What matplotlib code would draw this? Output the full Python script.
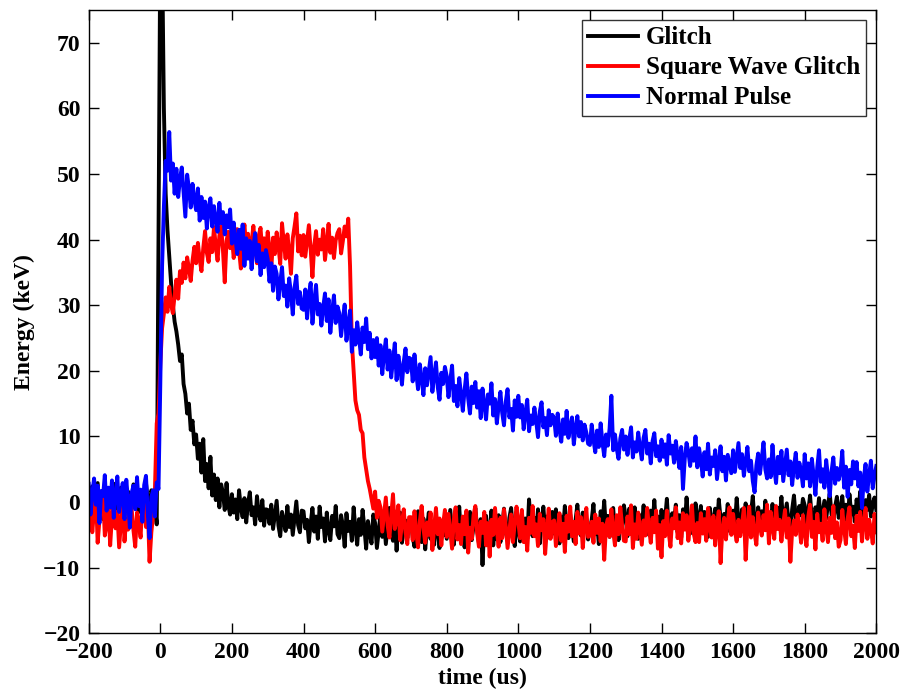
import numpy as np
import matplotlib
matplotlib.use("Agg")
import matplotlib.pyplot as plt

plt.rcParams["font.family"] = ["Liberation Serif", "DejaVu Serif"]
plt.rcParams["font.weight"] = "bold"
plt.rcParams["font.size"] = 17

# sample times (us), one sample every 5 us
time_us = np.arange(-200, 2001, 5)

# Glitch trace (keV), one row per 100 us
glitch = [
    1.5, -0.8, 2.4, -1.8, 0.6, 2.9, -0.5, 1.2, -2.6, 0.8, 2.1, -1.2, 1.9, -0.3, 2.8, -1.6, 0.4, -0.9, 2.2, -1.4,          # -200
    -2.1, 0.9, 1.6, -1.3, -0.4, 2.7, 2.2, -0.6, -1.5, 1.4, 0.6, -2.0, 2.9, 0.3, -1.7, 1.8, 0.9, -0.8, -3.4, 40.0,         # -100
    85.0, 84.0, 60.0, 47.0, 41.5, 37.5, 33.5, 30.0, 27.5, 26.0, 24.0, 21.5, 22.5, 18.0, 16.5, 13.5, 15.0, 11.0, 12.4, 8.8,  # 0
    10.3, 6.6, 8.9, 4.5, 9.6, 3.2, 5.8, 2.1, 6.9, 1.0, 4.2, 0.3, 3.6, -0.8, 2.7, 1.4, -1.2, 2.9, -0.5, -1.9,               # 100
    1.2, -1.6, 0.4, -2.6, 1.8, -0.9, -2.3, 0.6, -3.1, -0.2, 1.5, -2.0, -0.8, -3.4, 0.9, -1.7, -2.8, 0.3, -3.6, -1.1,       # 200
    -1.2, -3.3, -0.4, -4.1, -2.0, 0.2, -3.6, -5.2, -1.5, -2.9, -4.4, -0.6, -3.8, -1.9, -5.0, -2.4, 0.1, -3.5, -4.6, -1.3,  # 300
    -1.4, -4.0, -2.7, -6.1, -3.2, -0.9, -4.5, -2.2, -5.6, -0.7, -3.8, -2.5, -6.0, -1.6, -4.3, -5.8, -2.1, -3.7, -0.6, -4.9, # 400
    -5.5, -2.0, -3.6, -6.8, -1.7, -4.4, -3.0, -5.9, -0.8, -4.1, -6.5, -2.6, -5.0, -1.2, -3.9, -7.1, -2.9, -4.7, -6.3, -1.9, # 500
    -3.2, -7.0, -4.4, -1.9, -5.3, -2.7, -6.4, -3.6, -0.9, -4.8, -5.9, -2.3, -7.4, -3.5, -1.6, -6.2, -4.1, -2.8, -5.5, -3.0, # 600
    -2.4, -5.3, -6.8, -3.6, -1.4, -4.7, -6.1, -2.5, -7.2, -4.0, -1.6, -5.6, -3.3, -6.5, -2.0, -4.4, -7.0, -3.1, -5.1, -2.2, # 700
    -5.6, -3.4, -1.2, -4.9, -6.5, -2.8, -4.3, -0.7, -5.4, -3.1, -6.9, -2.2, -4.6, -1.5, -5.8, -3.7, -0.9, -4.1, -6.2, -2.6, # 800
    -9.6, -3.5, -2.1, -5.9, -4.8, -1.3, -6.6, -3.4, -5.7, -2.0, -6.1, -3.9, -1.0, -4.6, -5.8, -2.4, -0.9, -4.3, -6.7, -3.2, # 900
    -3.7, -6.0, -1.8, -4.2, -2.5, -5.6, 0.4, -3.3, -5.2, -2.4, -4.8, -1.1, -6.3, -3.0, -0.7, -4.5, -2.2, -5.4, -3.6, -1.5,  # 1000
    -4.8, -1.1, -3.9, -6.3, -2.2, -4.5, -0.6, -3.4, -5.5, -1.9, -4.0, -6.0, -2.7, -0.4, -3.8, -5.1, -1.6, -4.4, -2.9, -5.7, # 1100
    -4.1, -2.7, -0.3, -4.9, -3.2, -6.4, -1.4, -3.6, 0.2, -4.4, -2.1, -5.3, -3.0, -0.9, -4.6, -2.4, -5.8, -1.2, -3.5, -0.5,  # 1200
    -2.3, -5.2, -1.0, -3.7, -4.8, -0.8, -3.1, -5.6, -2.0, -3.9, -0.5, -4.4, -2.6, -5.0, -1.3, -3.4, 0.3, -4.1, -2.2, -5.3,  # 1300
    -1.2, -4.3, -2.6, 0.5, -3.8, -5.0, -1.7, -3.2, -0.4, -4.6, -2.0, -5.4, -1.1, -3.6, 0.7, -2.9, -4.8, -1.5, -3.3, -0.2,   # 1400
    -2.2, -3.9, -0.6, -4.7, -1.5, -3.4, -5.3, -0.9, -2.8, -4.1, -1.0, -3.7, 0.4, -2.5, -4.9, -1.8, -3.2, -0.3, -4.4, -2.1,  # 1500
    -1.3, -3.6, 0.6, -2.9, -4.4, -1.1, -3.3, -0.2, -2.5, -4.0, -1.7, 0.9, -3.1, -4.7, -0.8, -2.6, -1.4, -3.9, 0.2, -2.3,    # 1600
    -1.6, -3.4, -0.3, -2.8, -4.1, -0.9, -2.6, 0.8, -3.5, -1.8, -0.2, -3.0, -4.3, -1.1, 1.0, -2.4, -3.7, -0.6, -2.0, 0.5,    # 1700
    -0.5, -3.1, -1.4, 1.0, -2.7, -3.8, -0.8, -2.2, 0.6, -3.3, -1.6, 0.2, -2.5, -0.4, 1.3, -1.9, -3.0, -0.7, 0.8, -2.4,      # 1800
    -1.1, 0.9, -2.6, -0.4, -3.4, 1.2, -1.9, -0.7, -3.0, 0.4, -1.5, 1.6, -0.8, -2.7, 0.3, -1.2, 1.1, -2.2, -0.3, 0.7,       # 1900
    -1.2,                                                                                                                   # 2000
]

# Square wave glitch trace (keV)
square_wave = [
    -2.1, 0.8, -4.6, -1.3, 1.5, -6.2, -2.8, -0.4, 1.2, -5.1, -3.4, -0.7, -6.6, -2.2, 0.3, -4.0, -1.5, -6.9, -3.1, 0.6,     # -200
    -6.0, -2.5, -4.2, 0.9, -1.1, -4.3, -6.8, -1.6, -3.3, -5.4, 0.4, -0.2, -3.8, -1.0, -9.1, -4.6, -2.0, 2.0, 12.0, 13.5,   # -100
    21.0, 26.5, 28.7, 31.2, 29.0, 32.8, 30.1, 28.8, 31.5, 33.9, 31.0, 35.2, 33.4, 36.5, 34.1, 37.3, 35.6, 33.7, 36.8, 38.9, # 0
    36.4, 39.5, 37.0, 35.2, 38.7, 41.3, 38.0, 36.6, 40.2, 38.1, 41.9, 39.0, 36.8, 40.6, 42.0, 38.4, 33.5, 39.8, 41.2, 38.7, # 100
    40.5, 37.2, 39.8, 41.6, 38.4, 35.6, 40.1, 42.3, 38.8, 40.9, 37.5, 39.6, 42.1, 38.9, 36.4, 40.6, 41.8, 38.0, 40.2, 37.7, # 200
    41.2, 38.6, 35.4, 40.3, 37.8, 41.1, 39.0, 36.3, 42.5, 39.5, 37.1, 40.8, 38.3, 34.8, 40.2, 42.0, 44.0, 38.2, 40.6, 37.6, # 300
    40.7, 37.4, 39.8, 42.2, 38.5, 34.3, 39.1, 41.3, 37.7, 40.0, 38.5, 41.6, 36.9, 39.4, 42.4, 38.0, 40.3, 37.2, 39.9, 41.0, # 400
    41.6, 37.9, 39.8, 42.0, 40.5, 43.2, 36.0, 24.5, 20.0, 15.5, 14.0, 13.3, 11.0, 10.5, 6.8, 5.0, 3.2, 2.0, 0.5, -1.0,     # 500
    1.6, -2.4, 0.2, -0.8, -4.5, -1.9, 0.7, -3.6, -5.4, -2.0, 1.2, -4.1, -2.7, -0.5, -5.8, -3.2, -1.1, -4.6, -6.4, -2.3,     # 600
    -2.3, -5.8, -1.4, -4.6, -6.9, -2.9, -0.6, -4.0, -6.2, -3.1, -5.0, -1.6, -7.3, -3.8, -0.9, -4.9, -2.5, -6.6, -3.4, -1.2, # 700
    -5.3, -1.8, -4.4, -7.1, -2.6, -0.8, -5.7, -3.5, -6.4, -2.2, -4.9, -1.3, -7.7, -3.9, -5.6, -2.0, -0.6, -4.7, -6.8, -3.0, # 800
    -4.7, -1.5, -6.6, -3.2, -8.3, -2.7, -5.0, -0.9, -4.2, -6.8, -2.4, -5.5, -1.1, -3.7, -7.0, -4.4, -1.9, -6.1, -3.3, -0.7, # 900
    -3.0, -5.5, -1.2, -6.1, -3.8, -7.4, -2.4, -4.7, -0.6, -5.2, -3.4, -6.7, -1.8, -4.3, -2.6, -7.9, -4.0, -1.0, -5.6, -3.1, # 1000
    -2.8, -6.7, -4.0, -1.7, -5.9, -3.3, -7.6, -2.1, -4.5, -0.7, -5.2, -3.0, -6.4, -1.5, -4.8, -2.3, -7.0, -3.7, -0.9, -5.3, # 1100
    -5.1, -3.0, -6.2, -1.9, -4.7, -2.5, -6.0, -3.3, -8.8, -3.7, -2.6, -5.3, -1.1, -4.4, -6.6, -2.0, -4.9, -0.8, -3.6, -5.9, # 1200
    -6.0, -2.2, -4.9, -0.5, -7.0, -3.4, -5.6, -1.6, -4.1, -6.5, -2.8, -5.1, -0.9, -3.9, -6.2, -2.4, -4.6, -1.3, -7.1, -3.5, # 1300
    -8.4, -2.9, -5.2, -1.3, -4.6, -6.8, -2.5, -4.0, -0.8, -5.5, -3.1, -6.3, -1.7, -4.2, -2.0, -5.9, -3.6, -0.5, -4.8, -6.1, # 1400
    -3.2, -6.1, -1.7, -4.8, -2.6, -5.9, -0.9, -3.8, -5.4, -2.1, -6.6, -3.5, -1.4, -9.3, -4.2, -2.4, -5.7, -3.0, -0.8, -5.0, # 1500
    -1.8, -4.4, -6.0, -2.7, -5.2, -3.4, -0.9, -8.8, -3.9, -0.7, -5.4, -2.3, -4.8, -6.5, -1.6, -3.8, -5.1, -2.0, -4.3, -0.4, # 1600
    -6.3, -1.5, -3.8, -5.6, -0.6, -4.1, -2.7, -6.0, -3.3, -1.2, -5.4, -2.5, -9.1, -4.4, -2.8, -5.0, -1.9, -3.6, -6.2, -2.0, # 1700
    -4.5, -6.7, -2.2, -0.4, -5.3, -3.0, -7.2, -1.8, -4.6, -3.3, -5.9, -1.1, -3.8, -6.1, -2.4, -4.7, -0.6, -5.5, -3.1, -6.8, # 1800
    -5.8, -1.2, -4.0, -6.4, -2.5, -0.8, -5.2, -3.6, -7.0, -2.1, -4.4, -1.5, -6.0, -3.2, -0.9, -5.6, -2.7, -4.1, -6.3, -1.8, # 1900
    -4.6,                                                                                                                   # 2000
]

# Normal pulse trace (keV)
normal_pulse = [
    2.8, -1.9, 1.2, 3.6, -0.4, 2.5, -3.2, 1.7, 0.9, 4.1, -1.3, 2.2, -0.8, 3.3, -2.4, 1.0, 3.9, -1.5, 0.6, 2.9,             # -200
    -2.6, 3.4, 0.2, -3.9, 1.4, 2.5, -1.1, 3.8, -0.6, 1.9, -3.0, 2.6, 4.0, -1.8, -5.5, 0.8, 1.8, -2.2, 3.0, 2.0,            # -100
    18.0, 36.0, 45.0, 52.0, 50.5, 56.4, 49.0, 51.6, 47.0, 50.8, 46.5, 49.3, 51.0, 47.2, 43.5, 49.9, 47.8, 44.9, 48.5, 46.1, # 0
    44.5, 47.8, 42.9, 46.5, 43.3, 45.8, 41.7, 44.9, 46.3, 42.0, 45.1, 43.0, 41.2, 45.6, 42.5, 44.2, 40.8, 43.7, 41.9, 44.6, # 100
    39.4, 42.6, 40.1, 37.8, 41.5, 38.6, 42.3, 36.0, 40.2, 37.1, 39.8, 35.5, 38.9, 41.0, 36.7, 39.2, 34.6, 37.9, 35.8, 38.4, # 200
    37.0, 33.6, 36.4, 32.2, 35.9, 34.8, 30.9, 33.5, 35.8, 31.4, 33.0, 29.8, 34.1, 31.9, 28.6, 32.7, 34.5, 30.2, 32.0, 29.5, # 300
    29.3, 32.4, 28.0, 31.6, 33.4, 27.2, 30.5, 33.1, 28.6, 30.2, 26.9, 29.7, 31.8, 27.6, 30.9, 25.8, 29.0, 31.5, 27.3, 29.8, # 400
    28.8, 25.3, 27.9, 30.1, 24.6, 27.0, 29.2, 22.9, 26.2, 24.0, 27.4, 25.1, 22.5, 26.6, 24.4, 28.0, 23.3, 25.8, 21.9, 24.7, # 500
    22.1, 25.0, 20.8, 23.9, 19.5, 22.6, 24.8, 20.2, 23.1, 19.0, 21.7, 24.2, 18.6, 22.3, 20.5, 17.9, 21.4, 23.4, 19.8, 22.0, # 600
    21.8, 18.4, 22.5, 19.6, 17.2, 21.0, 18.9, 16.3, 20.4, 17.8, 19.9, 22.1, 16.8, 19.2, 21.3, 17.5, 15.6, 19.7, 18.0, 20.6, # 700
    19.2, 16.0, 18.6, 20.8, 15.4, 17.7, 14.6, 18.9, 16.5, 13.9, 17.1, 19.6, 15.8, 13.5, 17.6, 15.1, 18.3, 14.4, 16.9, 12.8, # 800
    17.3, 14.8, 12.6, 16.4, 15.0, 18.1, 13.2, 15.7, 12.0, 14.6, 16.8, 13.6, 11.7, 15.3, 17.2, 12.9, 14.2, 10.9, 15.5, 13.0, # 900
    16.2, 12.9, 14.8, 11.1, 13.7, 15.6, 10.8, 13.2, 11.9, 14.4, 12.3, 9.9, 13.8, 15.2, 11.4, 12.8, 10.2, 14.0, 11.7, 13.3,  # 1000
    12.8, 10.1, 13.5, 11.0, 9.2, 12.6, 10.4, 13.9, 9.8, 11.5, 12.9, 8.8, 11.2, 13.1, 10.0, 12.2, 9.4, 11.8, 10.6, 8.9,      # 1100
    8.7, 11.8, 9.5, 7.6, 10.9, 8.4, 12.0, 9.1, 7.0, 10.3, 8.6, 11.2, 16.2, 7.9, 10.3, 8.1, 6.6, 9.7, 11.0, 8.0,             # 1200
    10.0, 7.2, 9.6, 11.4, 6.8, 9.1, 7.7, 10.6, 8.3, 6.5, 9.8, 11.0, 7.4, 8.9, 5.9, 9.3, 10.5, 7.0, 8.5, 6.3,                # 1300
    9.5, 6.9, 8.8, 5.7, 10.2, 7.4, 8.6, 6.0, 9.3, 7.1, 5.2, 8.4, 2.0, 6.6, 9.0, 7.7, 5.5, 8.2, 6.3, 10.0,                   # 1400
    5.3, 8.2, 6.4, 3.9, 7.6, 5.0, 8.9, 4.2, 6.8, 5.5, 7.9, 3.5, 6.1, 8.5, 4.7, 6.9, 3.3, 7.2, 5.8, 4.4,                     # 1500
    7.9, 4.6, 6.8, 9.0, 5.2, 7.3, 4.0, 6.1, 8.4, 4.7, 6.3, 3.2, 1.5, 5.6, 7.4, 4.3, 6.6, 9.1, 5.0, 3.6,                     # 1600
    6.5, 3.8, 8.7, 5.1, 2.9, 6.9, 4.4, 7.8, 3.2, 5.6, 8.0, 4.1, 6.2, 2.6, 5.4, 7.5, 3.7, 6.0, 4.8, 2.4,                     # 1700
    7.3, 3.6, 5.9, 2.4, 6.6, 4.0, 1.1, 5.3, 7.9, 3.1, 5.0, 2.2, 6.4, 3.9, 0.9, 4.7, 6.8, 2.8, 5.2, 3.4,                     # 1800
    4.6, 7.8, 2.2, 5.4, 0.8, 4.9, 2.7, 6.2, 3.6, 6.1, 2.4, 4.5, -0.9, 3.6, 5.8, 1.6, 4.2, 6.3, 2.1, 4.0,                    # 1900
    5.5,                                                                                                                    # 2000
]

series_names = ["Glitch", "Square Wave Glitch", "Normal Pulse"]
series_colors = ["#000000", "#ff0000", "#0000ff"]
x_ticks = list(range(-200, 2001, 200))
y_ticks = list(range(-20, 71, 10))

fig = plt.figure(figsize=(9.03, 6.93), dpi=100)
ax = fig.add_axes([88.7 / 903, (693 - 633.3) / 693,
                   (876.3 - 88.7) / 903, (633.3 - 10.0) / 693])

for name, color, values in zip(series_names, series_colors,
                               [glitch, square_wave, normal_pulse]):
    ax.plot(time_us, values, color=color, lw=2.8, label=name,
            solid_joinstyle="round")

ax.set_xlim(-200, 2000)
ax.set_ylim(-20, 75)
ax.set_xticks(x_ticks)
ax.set_yticks(y_ticks)
ax.tick_params(direction="in", length=7, width=1, top=True, right=True,
               labelsize=17, pad=6)
for spine in ax.spines.values():
    spine.set_linewidth(1)

ax.set_xlabel("time (us)", fontsize=17, fontweight="bold", labelpad=4)
ax.set_ylabel("Energy (keV)", fontsize=17, fontweight="bold", labelpad=6)

leg = ax.legend(loc="upper right", fontsize=18, frameon=True, fancybox=False,
                edgecolor="black", handlelength=2.0, handletextpad=0.3,
                labelspacing=0.28, borderpad=0.25, borderaxespad=0.4)
leg.get_frame().set_linewidth(1)
for t in leg.get_texts():
    t.set_fontweight("bold")

fig.savefig("out.png", dpi=100)
